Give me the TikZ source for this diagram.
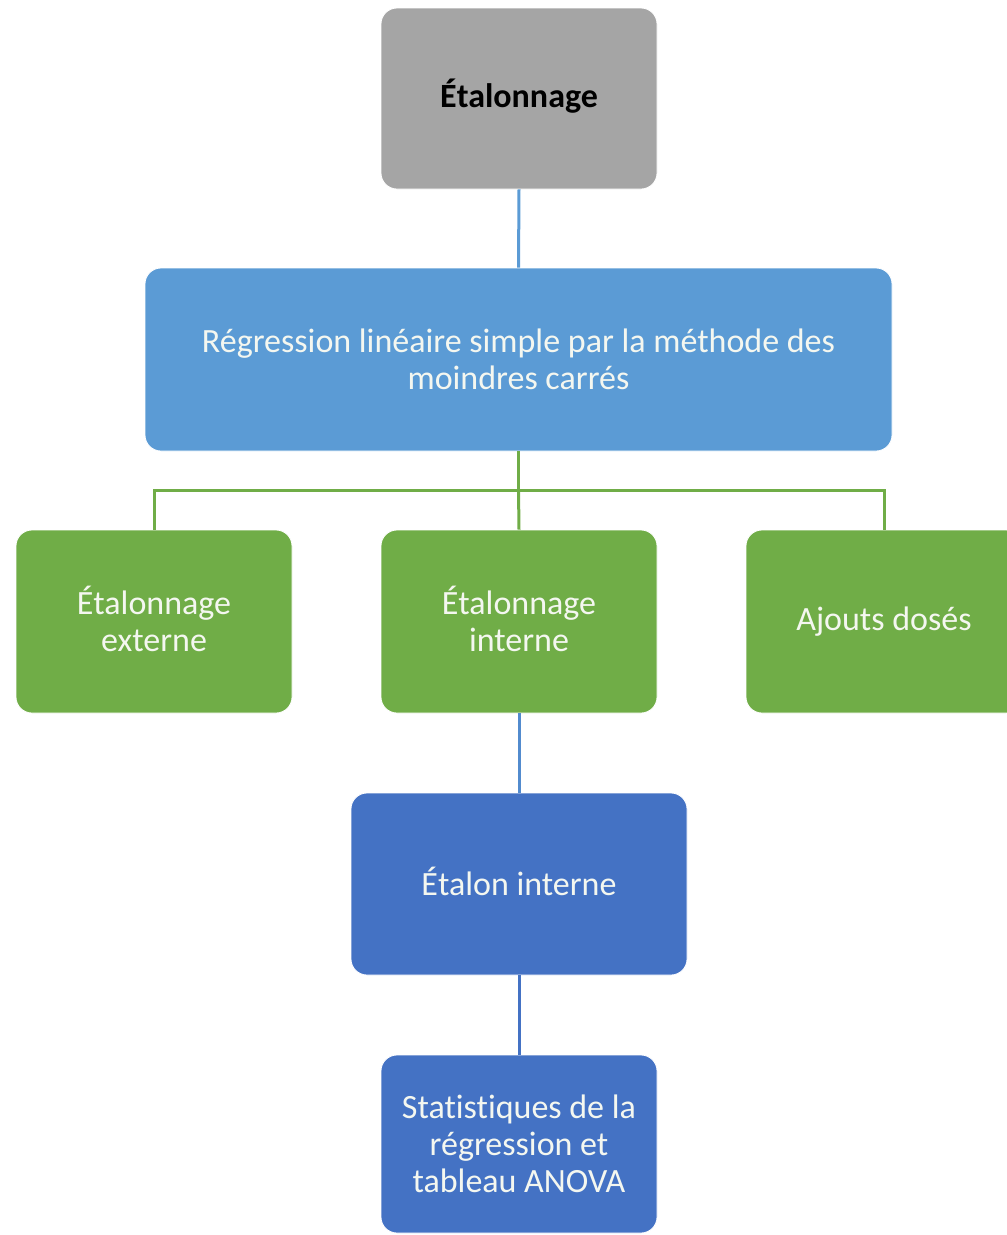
\documentclass[tikz,border=0pt]{standalone}
\usepackage{fontspec}
\setmainfont{Carlito}[Ligatures=NoCommon]
\definecolor{boxgray}{HTML}{A5A5A5}
\definecolor{boxblue}{HTML}{5B9BD5}
\definecolor{boxgreen}{HTML}{70AD47}
\definecolor{boxnavy}{HTML}{4472C4}
\definecolor{txtwhite}{HTML}{F4F7F0}
% capital E acute without its accent height, so lines centre like the others
\newcommand{\Eac}{\smash{É}}
\tikzset{
  card/.style={rectangle, rounded corners=16pt, draw=white, line width=0.8pt,
    align=center, inner sep=0pt, font=\fontsize{34}{37}\selectfont},
  link/.style={line width=3pt},
}
\begin{document}
\begin{tikzpicture}[x=1pt,y=-1pt]
\useasboundingbox (0,0) rectangle (1007,1235);
\clip (0,0) rectangle (1007,1235);

% top of the hierarchy
\node[card, fill=boxgray, minimum width=276pt, minimum height=181pt,
      font=\fontsize{34}{37}\selectfont\bfseries, text=black]
  (top) at (519,98.5) {\Eac talonnage};

\node[card, fill=boxblue, text=txtwhite, minimum width=747pt, minimum height=183pt]
  (reg) at (518.5,359.5) {Régression linéaire simple par la méthode des\\moindres carrés};

% three calibration methods
\node[card, fill=boxgreen, text=txtwhite, minimum width=276pt, minimum height=183pt]
  (ext) at (154,621.5) {\Eac talonnage\\externe};
\node[card, fill=boxgreen, text=txtwhite, minimum width=276pt, minimum height=183pt]
  (int) at (519,621.5) {\Eac talonnage\\interne};
\node[card, fill=boxgreen, text=txtwhite, minimum width=276pt, minimum height=183pt]
  (ajo) at (884,621.5) {Ajouts dosés};

% internal standard branch
\node[card, fill=boxnavy, text=txtwhite, minimum width=336pt, minimum height=182pt]
  (eta) at (519,884) {\Eac talon interne};
\node[card, fill=boxnavy, text=txtwhite, minimum width=276pt, minimum height=178pt]
  (stat) at (519,1144) {Statistiques de la\\régression et\\tableau ANOVA};

% connectors
\coordinate (bus) at (518,490);
\draw[link, boxblue] (top.south) -- (reg.north);
\draw[link, boxgreen] (reg.south) -- (reg.south |- bus) -| (ext.north);
\draw[link, boxgreen] (reg.south |- bus) -| (ajo.north);
\draw[link, boxgreen] (reg.south |- bus) -- (int.north);
\draw[link, boxblue!60!boxnavy] (int.south) -- (eta.north);
\draw[link, boxnavy] (eta.south) -- (stat.north);
\end{tikzpicture}
\end{document}
